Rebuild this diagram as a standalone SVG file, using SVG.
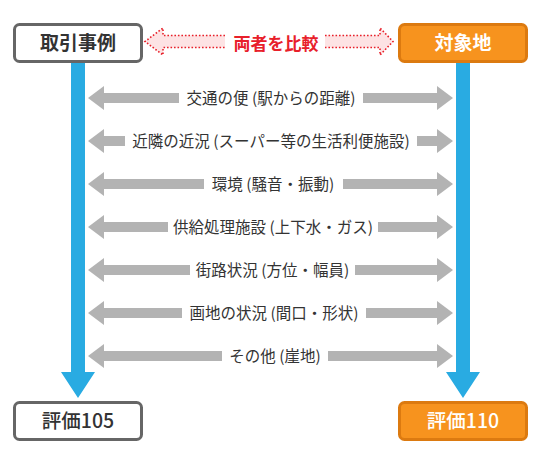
<svg xmlns="http://www.w3.org/2000/svg" width="540" height="460" viewBox="0 0 540 460">
<style>
text{font-family:"Noto Sans CJK JP","Noto Sans",sans-serif;text-anchor:middle}
.box{fill:#fff;stroke:#666;stroke-width:3}
.obox{fill:#f7931e;stroke:#dc7a10;stroke-width:3}
.bt{font-size:19px;font-weight:700;fill:#333}
.wt{font-size:19px;font-weight:700;fill:#fff}
.bb{font-size:19.5px;font-weight:500;fill:#333}
.wb{font-size:19.5px;font-weight:500;fill:#fff}
.lbl{font-size:15.5px;fill:#333}
.ga{fill:#b3b3b3}
.blue{fill:#29abe2}
.red{fill:#fde3e4;stroke:#e8202a;stroke-width:1.6;stroke-dasharray:1.6 1.9}
.rt{font-size:17px;font-weight:700;fill:#e8202a}
</style>
<g id="connectors">
  <g id="blue-left"><path class="blue" d="M71 63H85V372H95L78 398L61 372H71Z"/></g>
  <g id="blue-right"><path class="blue" d="M456 63H470V372H480L463 398L446 372H456Z"/></g>
  <g id="compare">
    <path class="red" d="M225 35.5H163V28L145 41.5L163 55V47.5H225"/>
    <path class="red" d="M325 35.5H380V28L393 41.5L380 55V47.5H325"/>
    <text class="rt" x="276" y="49.5">両者を比較</text>
  </g>
  <g id="row1">
    <path class="ga" d="M179 93H104V86L88 98L104 110V103H179Z"/>
    <path class="ga" d="M363 93H437V86L453 98L437 110V103H363Z"/>
    <text class="lbl" x="271" y="103.5">交通の便 (駅からの距離)</text>
  </g>
  <g id="row2">
    <path class="ga" d="M125 136H104V129L88 141L104 153V146H125Z"/>
    <path class="ga" d="M417 136H437V129L453 141L437 153V146H417Z"/>
    <text class="lbl" x="271" y="146.5">近隣の近況 (スーパー等の生活利便施設)</text>
  </g>
  <g id="row3">
    <path class="ga" d="M204 179H104V172L88 184L104 196V189H204Z"/>
    <path class="ga" d="M343 179H437V172L453 184L437 196V189H343Z"/>
    <text class="lbl" x="273" y="189.5">環境 (騒音・振動)</text>
  </g>
  <g id="row4">
    <path class="ga" d="M168 222H104V215L88 227L104 239V232H168Z"/>
    <path class="ga" d="M378 222H437V215L453 227L437 239V232H378Z"/>
    <text class="lbl" x="273" y="232.5">供給処理施設 (上下水・ガス)</text>
  </g>
  <g id="row5">
    <path class="ga" d="M190 265H104V258L88 270L104 282V275H190Z"/>
    <path class="ga" d="M355 265H437V258L453 270L437 282V275H355Z"/>
    <text class="lbl" x="272.5" y="275.5">街路状況 (方位・幅員)</text>
  </g>
  <g id="row6">
    <path class="ga" d="M182 308H104V301L88 313L104 325V318H182Z"/>
    <path class="ga" d="M366 308H437V301L453 313L437 325V318H366Z"/>
    <text class="lbl" x="274" y="318.5">画地の状況 (間口・形状)</text>
  </g>
  <g id="row7">
    <path class="ga" d="M222 351H104V344L88 356L104 368V361H222Z"/>
    <path class="ga" d="M328 351H437V344L453 356L437 368V361H328Z"/>
    <text class="lbl" x="275" y="361.5">その他 (崖地)</text>
  </g>
</g>
<g id="node-torihiki">
  <rect class="box" x="14.5" y="24.5" width="127" height="37" rx="5"/>
  <text class="bt" x="78" y="49.5">取引事例</text>
</g>
<g id="node-taishouchi">
  <rect class="obox" x="399.5" y="24.5" width="127" height="37" rx="5"/>
  <text class="wt" x="463" y="49.5">対象地</text>
</g>
<g id="node-hyouka105">
  <rect class="box" x="14.5" y="402.5" width="127" height="37" rx="5"/>
  <text class="bb" x="78" y="427.5">評価105</text>
</g>
<g id="node-hyouka110">
  <rect class="obox" x="399.5" y="402.5" width="127" height="37" rx="5"/>
  <text class="wb" x="463" y="427.5">評価110</text>
</g>
</svg>
